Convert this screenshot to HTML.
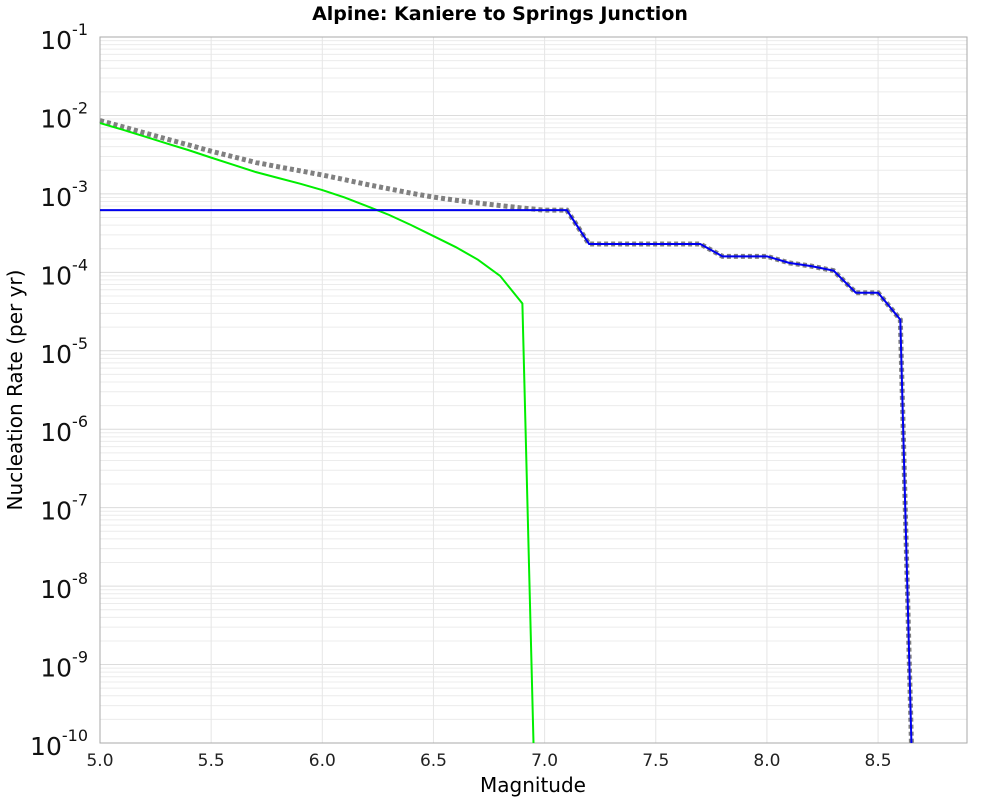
<!DOCTYPE html>
<html><head><meta charset="utf-8"><style>
body{margin:0;background:#fff;font-family:"DejaVu Sans","Liberation Sans",sans-serif}
</style></head><body>
<svg width="1000" height="800" xmlns="http://www.w3.org/2000/svg">
<text x="500" y="20" text-anchor="middle" font-size="19" font-weight="bold" font-family="DejaVu Sans, sans-serif">Alpine: Kaniere to Springs Junction</text>
<g id="grid"></g>
<rect x="100" y="37" width="867" height="706" fill="none" stroke="#aaa"/>
<g id="series"></g>
<g id="axes"></g>
<text x="533" y="792" text-anchor="middle" font-size="20" font-family="DejaVu Sans, sans-serif">Magnitude</text>
<text transform="translate(22,390) rotate(-90)" text-anchor="middle" font-size="20" font-family="DejaVu Sans, sans-serif">Nucleation Rate (per yr)</text>
</svg>
<script>
const xTicks=[5.0,5.5,6.0,6.5,7.0,7.5,8.0,8.5];
const yExps=[-1,-2,-3,-4,-5,-6,-7,-8,-9,-10];
const greenM=[5.0,5.1,5.2,5.3,5.4,5.5,5.6,5.7,5.8,5.9,6.0,6.1,6.2,6.3,6.4,6.5,6.6,6.7,6.8,6.9,6.95];
const greenV=[8e-3,6.6e-3,5.4e-3,4.4e-3,3.6e-3,2.9e-3,2.35e-3,1.9e-3,1.6e-3,1.35e-3,1.12e-3,9e-4,7e-4,5.4e-4,4e-4,2.9e-4,2.1e-4,1.45e-4,9e-5,4e-5,1e-10];
const blueM=[5.0,7.1,7.2,7.7,7.8,8.0,8.1,8.2,8.3,8.4,8.5,8.6,8.65];
const blueV=[6.2e-4,6.2e-4,2.3e-4,2.3e-4,1.6e-4,1.6e-4,1.32e-4,1.2e-4,1.05e-4,5.5e-5,5.5e-5,2.5e-5,1e-10];
const grayM=[5.0,5.1,5.2,5.3,5.4,5.5,5.6,5.7,5.8,5.9,6.0,6.1,6.2,6.3,6.4,6.5,6.6,6.7,6.8,6.9,7.0,7.1,7.2,7.7,7.8,8.0,8.1,8.2,8.3,8.4,8.5,8.6,8.65];
const grayV=[8.6e-3,7.2e-3,6.0e-3,5.0e-3,4.2e-3,3.5e-3,2.97e-3,2.52e-3,2.22e-3,1.97e-3,1.74e-3,1.52e-3,1.32e-3,1.16e-3,1.02e-3,9.1e-4,8.3e-4,7.65e-4,7.1e-4,6.6e-4,6.2e-4,6.2e-4,2.3e-4,2.3e-4,1.6e-4,1.6e-4,1.32e-4,1.2e-4,1.05e-4,5.5e-5,5.5e-5,2.5e-5,1e-10];
const X0=100,X1=967,Y0=37,Y1=743,xMin=5.0,xMax=8.9,lMax=-1,lMin=-10;
const xs=m=>X0+(m-xMin)/(xMax-xMin)*(X1-X0);
const ys=v=>Y0+(lMax-Math.log10(v))/(lMax-lMin)*(Y1-Y0);
const NS="http://www.w3.org/2000/svg";
function mk(tag,attrs,parent){const e=document.createElementNS(NS,tag);for(const k in attrs)e.setAttribute(k,attrs[k]);parent.appendChild(e);return e;}
const grid=document.getElementById('grid'),axes=document.getElementById('axes'),series=document.getElementById('series');
for(let e=-10;e<-1;e++){for(let k=1;k<10;k++){const y=ys(k*Math.pow(10,e));const l=mk('line',{x1:X0,x2:X1,y1:y,y2:y,stroke:k==1?'#dcdcdc':'#ececec','stroke-width':1},grid);

}}
xTicks.forEach(m=>{const x=xs(m);const l=mk('line',{x1:x,x2:x,y1:Y0,y2:Y1,stroke:'#e6e6e6'},grid);


const t=mk('text',{x:x,y:766,'text-anchor':'middle','font-size':17,fill:'#222'},axes);t.textContent=m.toFixed(1);

});
yExps.forEach(e=>{const y=ys(Math.pow(10,e));const t=mk('text',{x:88,y:y+12,'text-anchor':'end','font-size':25,fill:'#111'},axes);


const a=mk('tspan',{},t);a.textContent='10';const b=mk('tspan',{dy:-14,'font-size':16},t);b.textContent=String(e);});
function line(M,V,attrs,name){const p=mk('polyline',Object.assign({points:M.map((m,i)=>xs(m)+','+ys(V[i])).join(' '),fill:'none'},attrs),series);

}
line(grayM,grayV,{stroke:'#808080','stroke-width':5,'stroke-dasharray':'4,3'},'total-mfd-line');
line(greenM,greenV,{stroke:'#00ee00','stroke-width':2},'gr-mfd-line');
line(blueM,blueV,{stroke:'#0000ee','stroke-width':2},'characteristic-mfd-line');
</script>
</body></html>
